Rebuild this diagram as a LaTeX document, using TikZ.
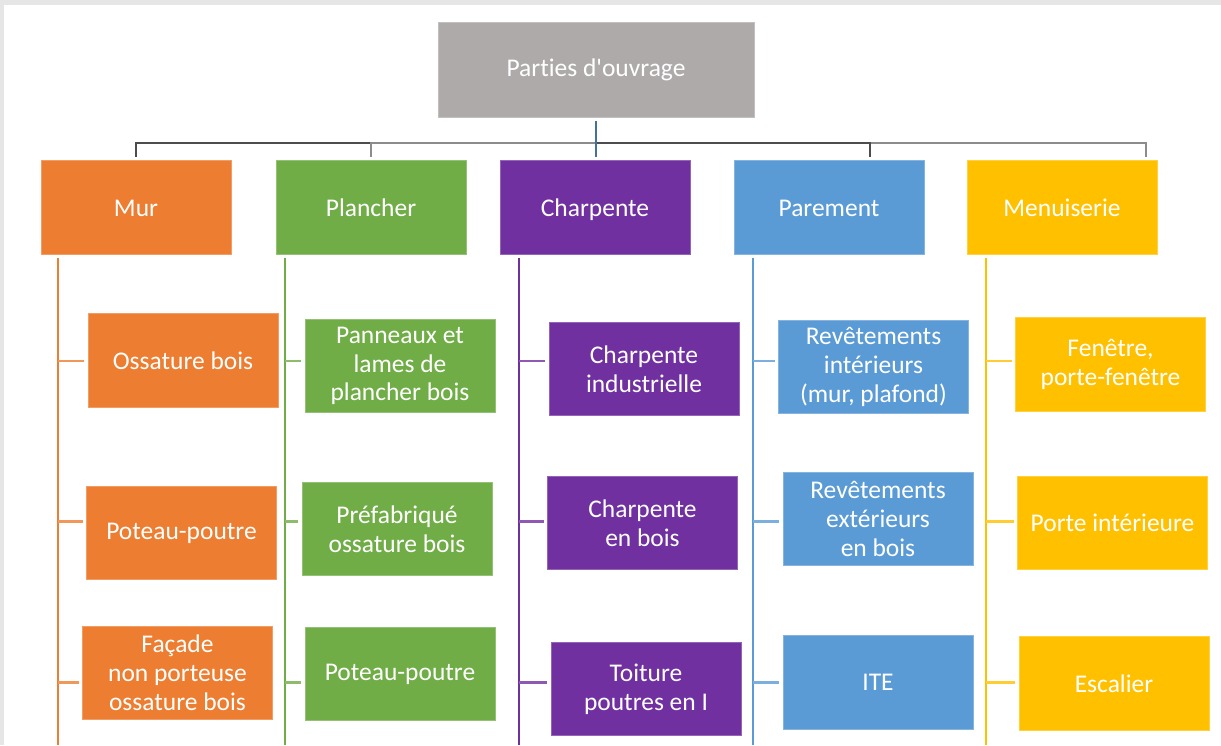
\documentclass[tikz,border=0pt]{standalone}
\usepackage{fontspec}
\setmainfont{Carlito}[Ligatures={TeXOff,NoCommon}]
\usepackage{xcolor}
\definecolor{o1}{HTML}{ED7D31}
\definecolor{g1}{HTML}{70AD47}
\definecolor{p1}{HTML}{7030A0}
\definecolor{b1}{HTML}{5B9BD5}
\definecolor{y1}{HTML}{FFC000}
\definecolor{k1}{HTML}{AEAAAA}
\definecolor{k2}{HTML}{E6E6E6}
\definecolor{k3}{HTML}{4D4D4D}
\definecolor{k4}{HTML}{8C8C8C}
\definecolor{l1}{HTML}{41719C}

\tikzset{
  cell/.style={fill=#1, draw=#1!75!white, line width=0.4pt, text=white, minimum width=3.8cm, minimum height=1.87cm, inner sep=0pt, align=center, font=\fontsize{14.5}{16.4}\selectfont},
  head/.style={cell=#1, minimum height=1.88cm, text height=1.2em, text depth=0.1em},
  spine/.style={draw=#1, line width=1.6pt, shorten <=2pt},
  twig/.style={draw=#1!80!white, line width=1.6pt, shorten >=2pt},
  wire/.style={draw=#1, line width=1.2pt, shorten <=2.3pt, shorten >=1.7pt}
}

\begin{document}
\begin{tikzpicture}[x=0.02cm, y=-0.02cm]
  \useasboundingbox (0,0) rectangle (1221,745);
  \fill[k2] (0,0) rectangle (1221,745);
  \fill[white] (4,5) rectangle (1221,745);

  \coordinate (busy) at (0,143);
  \coordinate (t1) at (0,361);
  \coordinate (t2) at (0,521.5);
  \coordinate (t3) at (0,682.5);

  \node[head=k1, minimum width=6.32cm, minimum height=1.9cm, text height=0.83em, text depth=0pt] (root) at (596,69.5) {Parties d'ouvrage};
  \node[head=o1] (mur) at (136,207) {Mur};
  \node[head=g1] (plan) at (371,207) {Plancher};
  \node[head=p1] (charp) at (595,207) {Charpente};
  \node[head=b1] (pare) at (829,207) {Parement};
  \node[head=y1] (menu) at (1062,207) {Menuiserie};

  % liaisons vers les parties
  \draw[wire=k3] (root.south) -- (root.south |- busy) -| (mur.north);
  \draw[wire=k4] (root.south) -- (root.south |- busy) -| (plan.north);
  \draw[wire=k4] (root.south) -- (root.south |- busy) -| ([xshift=-0.22cm]menu.north east);
  \draw[wire=k3] (root.south) -- (root.south |- busy) -| ([xshift=0.82cm]pare.north);
  \draw[wire=l1] (root.south) -- ([xshift=0.02cm]charp.north);

  % Mur
  \node[cell=o1] (oss) at (183,360.5) {Ossature bois};
  \node[cell=o1] (pp1) at (181.5,533) {Poteau-poutre};
  \node[cell=o1] (fac) at (177.5,673) {Façade\\non porteuse\\ossature bois};
  \coordinate (murB) at (58,745);
  \draw[spine=o1] (mur.south -| murB) -- (murB);
  \foreach \n/\t in {oss/t1,pp1/t2,fac/t3}
    \draw[twig=o1] (murB |- \t) -- (\n.west |- \t);

  % Plancher
  \node[cell=g1] (pan) at (400,366) {Panneaux et\\lames de\\plancher bois};
  \node[cell=g1] (pre) at (397,529) {Préfabriqué\\ossature bois};
  \node[cell=g1] (pp2) at (400,674) {Poteau-poutre};
  \coordinate (planB) at (285,745);
  \draw[spine=g1] (plan.south -| planB) -- (planB);
  \foreach \n/\t in {pan/t1,pre/t2,pp2/t3}
    \draw[twig=g1] (planB |- \t) -- (\n.west |- \t);

  % Charpente
  \node[cell=p1] (ind) at (644,369) {Charpente\\industrielle};
  \node[cell=p1] (cbois) at (642.5,523) {Charpente\\en bois};
  \node[cell=p1] (toit) at (646,689) {Toiture\\poutres en I};
  \coordinate (charpB) at (519,745);
  \draw[spine=p1] (charp.south -| charpB) -- (charpB);
  \foreach \n/\t in {ind/t1,cbois/t2,toit/t3}
    \draw[twig=p1] (charpB |- \t) -- (\n.west |- \t);

  % Parement
  \node[cell=b1] (rint) at (873.5,367) {Revêtements\\intérieurs\\(mur, plafond)};
  \node[cell=b1] (rext) at (878,519) {Revêtements\\extérieurs\\en bois};
  \node[cell=b1] (ite) at (878,682.5) {ITE};
  \coordinate (pareB) at (753,745);
  \draw[spine=b1] (pare.south -| pareB) -- (pareB);
  \foreach \n/\t in {rint/t1,rext/t2,ite/t3}
    \draw[twig=b1] (pareB |- \t) -- (\n.west |- \t);

  % Menuiserie
  \node[cell=y1] (fen) at (1110.5,364.5) {Fenêtre,\\porte-fenêtre};
  \node[cell=y1] (pint) at (1112.5,523) {Porte intérieure};
  \node[cell=y1] (esc) at (1114,683.5) {Escalier};
  \coordinate (menuB) at (986,745);
  \draw[spine=y1] (menu.south -| menuB) -- (menuB);
  \foreach \n/\t in {fen/t1,pint/t2,esc/t3}
    \draw[twig=y1] (menuB |- \t) -- (\n.west |- \t);
\end{tikzpicture}
\end{document}
